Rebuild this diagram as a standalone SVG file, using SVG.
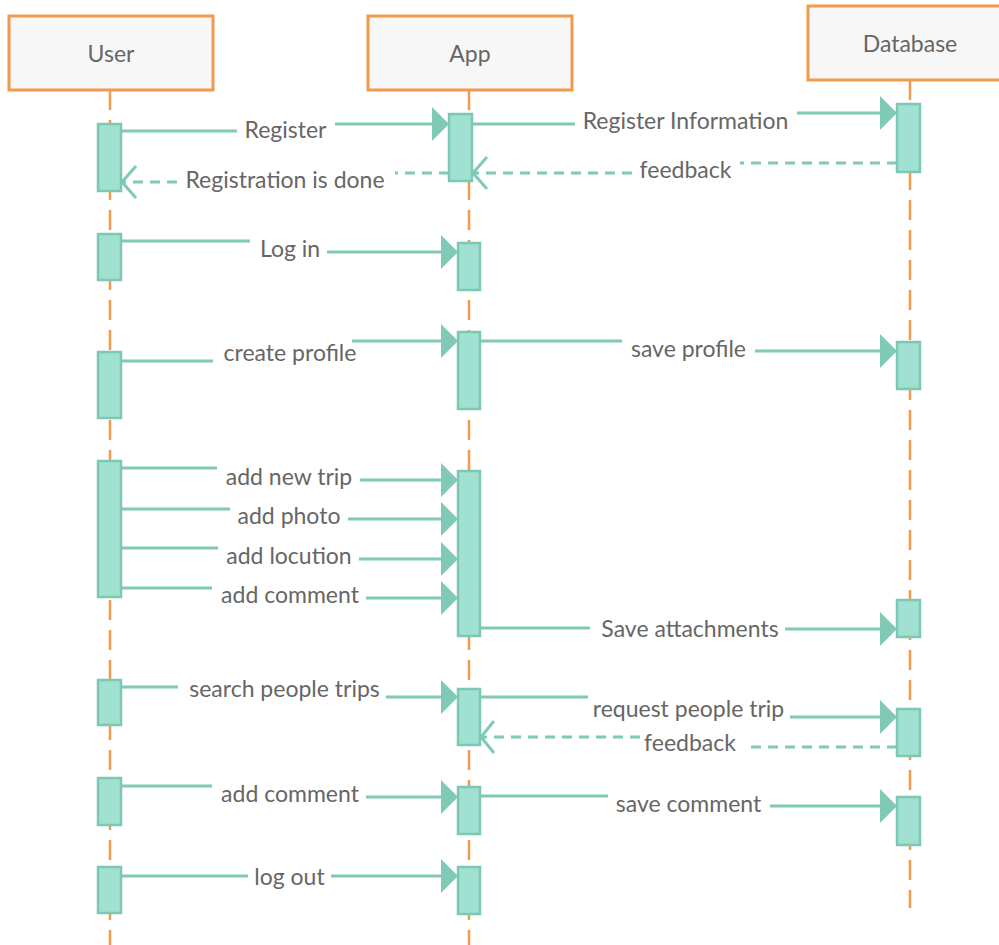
<svg xmlns="http://www.w3.org/2000/svg" width="999" height="945" viewBox="0 0 999 945">
<style>
.box{fill:#f7f7f7;stroke:#ef9a4d;stroke-width:3}
.life{stroke:#ef9a4d;stroke-width:2.5;stroke-dasharray:20 10;fill:none}
.bar{fill:#a0e1d1;stroke:#7cc8b5;stroke-width:2.5}
.msg{stroke:#7fc9b6;stroke-width:3;fill:none}
.ret{stroke:#7fc9b6;stroke-width:3;fill:none;stroke-dasharray:10 7}
.head{fill:#7fc9b6}
.open{stroke:#7fc9b6;stroke-width:3;fill:none}
text{font-family:Lato,"Open Sans","Liberation Sans",sans-serif;font-size:23px;fill:#666;text-anchor:middle}
</style>
<rect width="999" height="945" fill="#fff"/>
<g id="user">
<line class="life" x1="110" y1="90" x2="110" y2="945"/>
<rect class="box" x="9" y="16" width="204" height="74"/>
<text x="111" y="62">User</text>
<rect class="bar" x="98" y="124" width="23" height="67"/>
<rect class="bar" x="98" y="234" width="23" height="46"/>
<rect class="bar" x="98" y="352" width="23" height="66"/>
<rect class="bar" x="98" y="461" width="23" height="136"/>
<rect class="bar" x="98" y="680" width="23" height="45"/>
<rect class="bar" x="98" y="778" width="23" height="47"/>
<rect class="bar" x="98" y="867" width="23" height="46"/>
</g>
<g id="app">
<line class="life" x1="469" y1="90" x2="469" y2="945"/>
<rect class="box" x="368" y="16" width="204" height="74"/>
<text x="470" y="62">App</text>
<rect class="bar" x="449" y="114" width="23" height="67"/>
<rect class="bar" x="458" y="243" width="22" height="47"/>
<rect class="bar" x="458" y="332" width="22" height="77"/>
<rect class="bar" x="458" y="471" width="22" height="165"/>
<rect class="bar" x="458" y="689" width="22" height="56"/>
<rect class="bar" x="458" y="787" width="22" height="47"/>
<rect class="bar" x="458" y="867" width="22" height="47"/>
</g>
<g id="database">
<line class="life" x1="910" y1="80" x2="910" y2="908"/>
<rect class="box" x="808" y="6" width="204" height="74"/>
<text x="910" y="52">Database</text>
<rect class="bar" x="897" y="104" width="23" height="68"/>
<rect class="bar" x="897" y="342" width="23" height="47"/>
<rect class="bar" x="897" y="600" width="23" height="37"/>
<rect class="bar" x="897" y="709" width="23" height="47"/>
<rect class="bar" x="897" y="797" width="23" height="48"/>
</g>
<g id="connectors">
<path class="msg" d="M121,131 H237 M335,124 H435"/>
<polygon class="head" points="449,124 432,107 432,141"/>
<text x="285.5" y="138">Register</text>

<path class="msg" d="M472,124 H575 M797,113 H885"/>
<polygon class="head" points="897,113 880,96 880,130"/>
<text x="685.5" y="129">Register Information</text>

<path class="ret" d="M897,163 H740 M632,173 H474"/>
<polyline class="open" points="487,157 473,173 487,189"/>
<text x="685.5" y="178">feedback</text>

<path class="ret" d="M449,173 H395 M177,182 H123"/>
<polyline class="open" points="136,166 122,182 136,198"/>
<text x="285" y="188">Registration is done</text>

<path class="msg" d="M121,241 H250 M327,252 H444"/>
<polygon class="head" points="458,252 441,235 441,269"/>
<text x="290" y="257">Log in</text>

<path class="msg" d="M121,361 H213 M352,341 H444"/>
<polygon class="head" points="458,341 441,324 441,358"/>
<text x="290" y="361">create profile</text>

<path class="msg" d="M480,341 H622 M755,351 H885"/>
<polygon class="head" points="897,351 880,334 880,368"/>
<text x="688.5" y="357">save profile</text>

<path class="msg" d="M121,468 H217 M360,480 H444"/>
<polygon class="head" points="458,480 441,463 441,497"/>
<text x="289" y="485">add new trip</text>

<path class="msg" d="M121,509 H230 M348,519 H444"/>
<polygon class="head" points="458,519 441,502 441,536"/>
<text x="289" y="524">add photo</text>

<path class="msg" d="M121,548 H218 M359,559 H444"/>
<polygon class="head" points="458,559 441,542 441,576"/>
<text x="289" y="564">add locution</text>

<path class="msg" d="M121,588 H212 M366,598 H444"/>
<polygon class="head" points="458,598 441,581 441,615"/>
<text x="290" y="603">add comment</text>

<path class="msg" d="M480,628 H590 M785,629 H885"/>
<polygon class="head" points="897,629 880,612 880,646"/>
<text x="690" y="637">Save attachments</text>

<path class="msg" d="M121,687 H178 M386,697 H444"/>
<polygon class="head" points="458,697 441,680 441,714"/>
<text x="284.5" y="697">search people trips</text>

<path class="msg" d="M480,697 H588 M790,717 H885"/>
<polygon class="head" points="897,717 880,700 880,734"/>
<text x="688.5" y="717">request people trip</text>

<path class="ret" d="M897,747 H745 M640,737 H482"/>
<polyline class="open" points="494,721 481,737 494,753"/>
<text x="690" y="751">feedback</text>

<path class="msg" d="M121,786 H212 M366,797 H444"/>
<polygon class="head" points="458,797 441,780 441,814"/>
<text x="290" y="802">add comment</text>

<path class="msg" d="M480,796 H608 M770,806 H885"/>
<polygon class="head" points="897,806 880,789 880,823"/>
<text x="688.5" y="812">save comment</text>

<path class="msg" d="M121,876 H248 M331,876 H444"/>
<polygon class="head" points="458,876 441,859 441,893"/>
<text x="289.5" y="885">log out</text>
</g>
</svg>
